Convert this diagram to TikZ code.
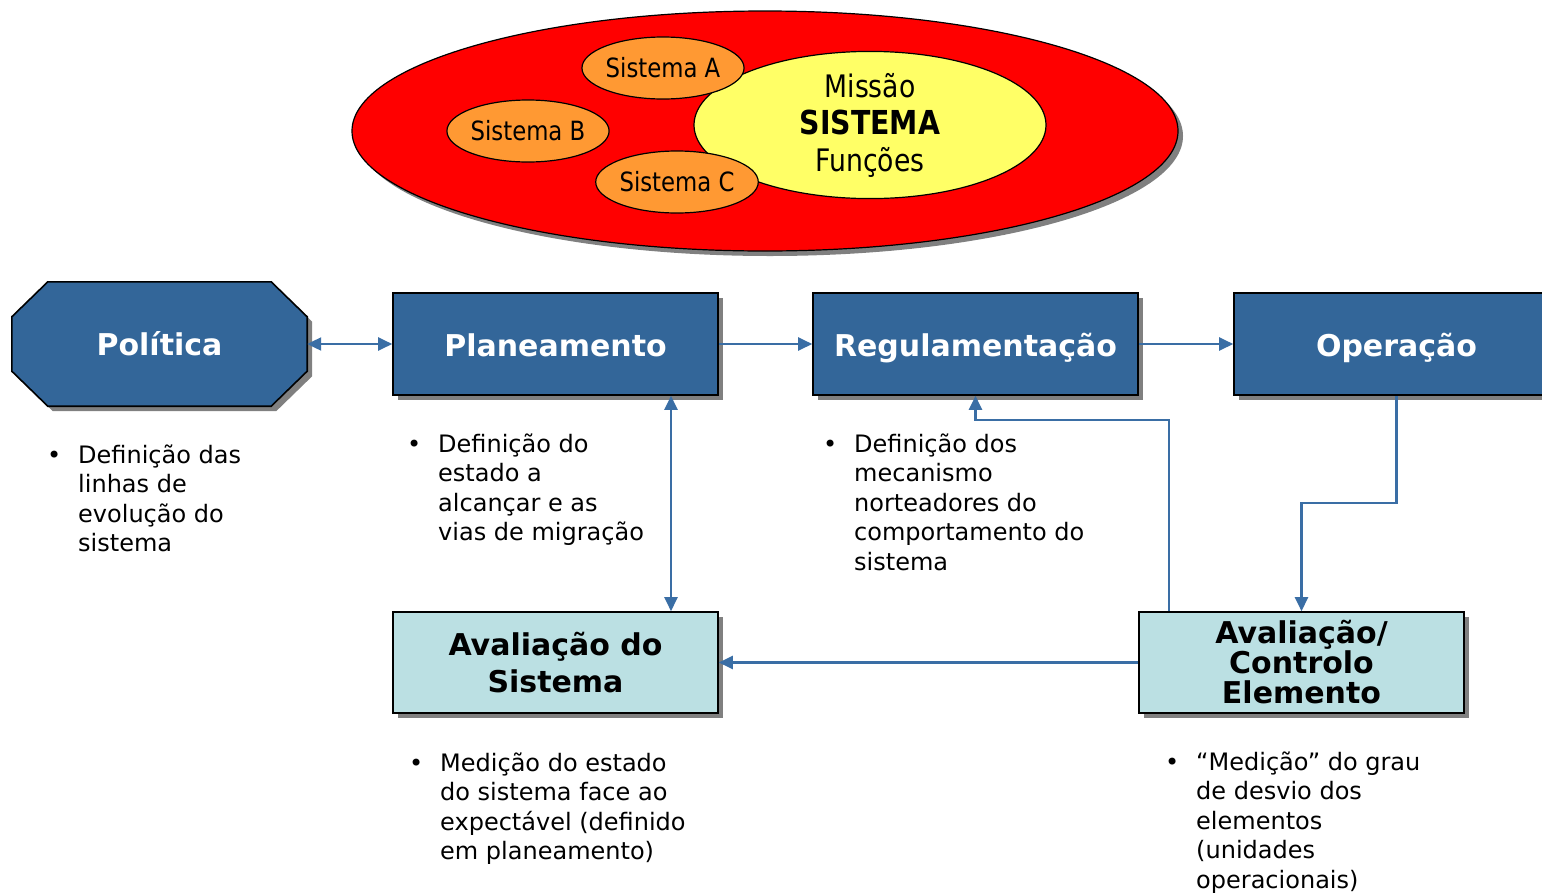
\documentclass[tikz,border=0pt]{standalone}
\usepackage{fontspec}
\setmainfont{DejaVu Sans}
\newfontfamily\narrowfont[FakeStretch=0.86]{DejaVu Sans}
\usetikzlibrary{shapes.geometric,shadows,arrows.meta,calc}
\definecolor{boxblue}{HTML}{336699}
\definecolor{boxcyan}{HTML}{BBE0E3}
\definecolor{ellred}{HTML}{FF0000}
\definecolor{ellorange}{HTML}{FF9933}
\definecolor{ellyellow}{HTML}{FFFF66}
\definecolor{shadowgray}{HTML}{808080}
\definecolor{arrowblue}{HTML}{3A6EA5}
\begin{document}
\begin{tikzpicture}[x=1pt,y=-1pt,
  shade5/.style={general shadow={fill=shadowgray,shadow xshift=5pt,shadow yshift=-5pt}},
  bluebox/.style={rectangle,draw=black,line width=1.6pt,fill=boxblue,shade5,
    minimum width=325pt,minimum height=102pt,inner sep=0pt,
    text height=26pt,text depth=2pt,
    text=white,font=\fontsize{30}{36}\selectfont\bfseries},
  cyanbox/.style={rectangle,draw=black,line width=1.6pt,fill=boxcyan,shade5,
    minimum width=325pt,minimum height=101pt,inner sep=0pt,align=center,
    text=black},
  subell/.style={ellipse,draw=black,line width=1.2pt,fill=ellorange,
    minimum width=162pt,minimum height=62pt,inner sep=0pt,
    font=\narrowfont\fontsize{26.5}{30}\selectfont},
  conn/.style={draw=arrowblue,line width=2.2pt,
    -{Triangle[length=14pt,width=13pt]}},
  bconn/.style={draw=arrowblue,line width=2.2pt,
    {Triangle[length=14pt,width=13pt]}-{Triangle[length=14pt,width=13pt]}},
  bullettext/.style={anchor=base west,inner sep=0pt,
    font=\fontsize{24}{29.6}\selectfont}
]
\clip (0,0) rectangle (1542,892);
\fill[white] (0,0) rectangle (1542,892);

% ---------- top ellipses ----------
\node[ellipse,draw=black,line width=1.2pt,fill=ellred,shade5,
  minimum width=826pt,minimum height=240pt,inner sep=0pt] (outer) at (765,131) {};
\node[ellipse,draw=black,line width=1.2pt,fill=ellyellow,
  minimum width=352pt,minimum height=126pt,inner sep=0pt,align=center,
  font=\narrowfont\fontsize{31}{37}\selectfont] (core) at (870,125)
  {Missão\\{\fontsize{33}{37}\selectfont\bfseries SISTEMA}\\Funções};
\node[subell] (sa) at (663,68) {Sistema A};
\node[subell] (sb) at (528,131) {Sistema B};
\node[subell] (sc) at (677,182) {Sistema C};

% ---------- Política octagon ----------
\node[rectangle,minimum width=295pt,minimum height=124pt,inner sep=0pt] (pol) at (159.5,344) {};
\path[draw=black,line width=1.6pt,fill=boxblue,shade5]
  ($(pol.north west)+(36,0)$) -- ($(pol.north east)+(-36,0)$)
  -- ($(pol.north east)+(0,35)$) -- ($(pol.south east)+(0,-35)$)
  -- ($(pol.south east)+(-36,0)$) -- ($(pol.south west)+(36,0)$)
  -- ($(pol.south west)+(0,-35)$) -- ($(pol.north west)+(0,35)$) -- cycle;
\node[text=white,font=\fontsize{30}{36}\selectfont\bfseries] at (pol.center) {Política};

% ---------- blue boxes ----------
\node[bluebox] (plan) at (555.5,344) {Planeamento};
\node[bluebox] (reg) at (975.5,344) {Regulamentação};
\node[bluebox] (op) at (1396.5,344) {Operação};

% ---------- cyan boxes ----------
\node[cyanbox,font=\fontsize{30}{37}\selectfont\bfseries] (avs) at (555.5,662.5)
  {Avaliação do\\Sistema};
\node[cyanbox,font=\fontsize{30}{30}\selectfont\bfseries] (ctl) at (1301.5,662.5)
  {Avaliação/\\Controlo\\Elemento};

% ---------- connectors ----------
\coordinate (vx) at (671,0);
\coordinate (m1) at (0,503);
\coordinate (c2) at (1169,420);
\draw[bconn] (pol.east) -- (plan.west);
\draw[conn] (plan.east) -- (reg.west);
\draw[conn] (reg.east) -- (op.west);
\draw[bconn] (plan.south -| vx) -- (avs.north -| vx);
\draw[conn] (op.south) -- (op.south |- m1) -| (ctl.north);
\draw[conn] (ctl.north -| c2) -- (c2) -| (reg.south);
\draw[conn] (ctl.west) -- (avs.east);

% ---------- bullet texts ----------
\node[bullettext] (t1) at (47,463) {\begin{tabular}[t]{@{}p{31pt}@{}l@{}}
  • & Definição das\\ & linhas de\\ & evolução do\\ & sistema\end{tabular}};
\node[bullettext] (t2) at (407,452) {\begin{tabular}[t]{@{}p{31pt}@{}l@{}}
  • & Definição do\\ & estado a\\ & alcançar e as\\ & vias de migração\end{tabular}};
\node[bullettext] (t3) at (823,452) {\begin{tabular}[t]{@{}p{31pt}@{}l@{}}
  • & Definição dos\\ & mecanismo\\ & norteadores do\\ & comportamento do\\ & sistema\end{tabular}};
\node[bullettext] (t4) at (409,771) {\begin{tabular}[t]{@{}p{31pt}@{}l@{}}
  • & Medição do estado\\ & do sistema face ao\\ & expectável (definido\\ & em planeamento)\end{tabular}};
\node[bullettext] (t5) at (1165,770) {\begin{tabular}[t]{@{}p{31pt}@{}l@{}}
  • & “Medição” do grau\\ & de desvio dos\\ & elementos\\ & (unidades\\ & operacionais)\end{tabular}};
\end{tikzpicture}
\end{document}
